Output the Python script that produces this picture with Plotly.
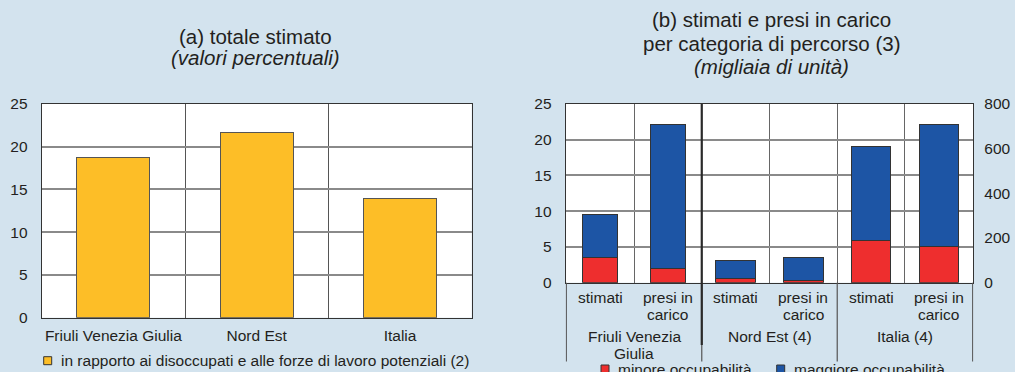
import plotly.graph_objects as go

W, H = 1015, 372

# Panel (a): estimated total, percentage values
regions_a = ["Friuli Venezia Giulia", "Nord Est", "Italia"]
share_a = [18.8, 21.7, 13.9]
legend_a = "in rapporto ai disoccupati e alle forze di lavoro potenziali (2)"
ticks_a = [0, 5, 10, 15, 20, 25]

# Panel (b): estimated and taken-in-charge by path category (thousands)
# Friuli Venezia Giulia is read on the left scale, Nord Est and Italia on the right one
groups_b = [["Friuli Venezia", "Giulia"], ["Nord Est (4)"], ["Italia (4)"]]
kinds_b = [["stimati"], ["presi in", "carico"]]
minore_b = [3.5, 2.0, 18, 9, 187, 160]
maggiore_b = [6.0, 20.1, 82, 105, 422, 550]
series_b = ["minore occupabilità", "maggiore occupabilità"]
ticks_b_left = [0, 5, 10, 15, 20, 25]
ticks_b_right = [0, 200, 400, 600, 800]

BG = "#d3e3ee"
YELLOW = "#fdbe27"
RED = "#ee2e2e"
BLUE = "#1d55a5"
FRAME = "#333333"
GRID = "#8a8a8a"
TXT = "#231f20"
FONT = "Liberation Sans"


def px_x(x):
    return x / W


def px_y(y):
    return 1 - y / H


# plot-area geometry (pixels)
a_left, a_right, a_top, a_bottom = 41.7, 471.7, 104, 317.7
b_left, b_right, b_top, b_bottom = 565.7, 973.3, 104, 282.7
LINE_GAP = 16.8

n_k = len(kinds_b)
cats_b = [f"{g}|{k}" for g in range(len(groups_b)) for k in range(n_k)]

fig = go.Figure()

fig.add_trace(go.Bar(
    x=regions_a, y=share_a, xaxis="x", yaxis="y", width=0.51,
    marker=dict(color=YELLOW, line=dict(color="#555555", width=1)),
    showlegend=False, hoverinfo="x+y",
))

# Friuli Venezia Giulia bars (left scale)
fvg = slice(0, n_k)
oth = slice(n_k, len(cats_b))
for vals, col, name in ((minore_b, RED, series_b[0]), (maggiore_b, BLUE, series_b[1])):
    fig.add_trace(go.Bar(
        x=cats_b[fvg], y=vals[fvg], xaxis="x2", yaxis="y3", width=0.52,
        marker=dict(color=col, line=dict(color=FRAME, width=1)),
        name=name, showlegend=False,
    ))
# Nord Est and Italia bars (right scale)
for vals, col, name in ((minore_b, RED, series_b[0]), (maggiore_b, BLUE, series_b[1])):
    fig.add_trace(go.Bar(
        x=cats_b[oth], y=vals[oth], xaxis="x2", yaxis="y4", width=0.58,
        marker=dict(color=col, line=dict(color=FRAME, width=1)),
        name=name, showlegend=False,
    ))

tickfont = dict(family=FONT, size=15.5, color=TXT)

fig.update_layout(
    width=W, height=H, margin=dict(l=0, r=0, t=0, b=0, autoexpand=False),
    paper_bgcolor=BG, plot_bgcolor="white", barmode="stack",
    font=dict(family=FONT, size=15.5, color=TXT),
    xaxis=dict(
        domain=[px_x(a_left), px_x(a_right)], anchor="y", type="category",
        tickson="boundaries", showgrid=True, gridcolor="#555555", gridwidth=1,
        showline=True, mirror=True, linecolor=FRAME, linewidth=1,
        ticks="", tickangle=0, tickfont=tickfont, ticklabelstandoff=4,
        fixedrange=True,
    ),
    yaxis=dict(
        domain=[px_y(a_bottom), px_y(a_top)], anchor="x", range=[0, 25],
        tickvals=ticks_a, showgrid=True, gridcolor=GRID, gridwidth=1.5,
        showline=True, mirror=True, linecolor=FRAME, linewidth=1,
        zeroline=False, ticks="", ticklabelstandoff=10, tickfont=tickfont,
    ),
    yaxis2=dict(
        overlaying="y", anchor="x", side="right", range=[0, 25],
        tickvals=ticks_a, showgrid=False, zeroline=False, ticks="",
        ticklabelstandoff=10, tickfont=tickfont,
    ),
    xaxis2=dict(
        domain=[px_x(b_left), px_x(b_right)], anchor="y3", type="category",
        categoryorder="array", categoryarray=cats_b,
        tickson="boundaries", showgrid=True, gridcolor="#666666", gridwidth=1.3,
        showline=True, mirror=True, linecolor=FRAME, linewidth=1,
        ticks="", showticklabels=False, fixedrange=True,
    ),
    yaxis3=dict(
        domain=[px_y(b_bottom), px_y(b_top)], anchor="x2", range=[0, 25],
        tickvals=ticks_b_left, showgrid=True, gridcolor=GRID, gridwidth=1.5,
        showline=True, mirror=True, linecolor=FRAME, linewidth=1,
        zeroline=False, ticks="", ticklabelstandoff=10, tickfont=tickfont,
    ),
    yaxis4=dict(
        overlaying="y3", anchor="x2", side="right", range=[0, 800],
        tickvals=ticks_b_right, showgrid=False, zeroline=False, ticks="",
        ticklabelstandoff=10, tickfont=tickfont,
    ),
)

# titles
title_font = dict(family=FONT, size=20.5, color=TXT)
titles = [
    (256, 36, "(a) totale stimato"),
    (256, 58, "<i>(valori percentuali)</i>"),
    (771.5, 20, "(b) stimati e presi in carico"),
    (771.5, 43, "per categoria di percorso (3)"),
    (771.5, 66, "<i>(migliaia di unità)</i>"),
]
for x, y, t in titles:
    fig.add_annotation(x=px_x(x), y=px_y(y), xref="paper", yref="paper",
                       text=t, showarrow=False, font=title_font,
                       xanchor="center", yanchor="middle")


def label_lines(x, y_first, lines):
    for li, line in enumerate(lines):
        fig.add_annotation(x=x, y=px_y(y_first + li * LINE_GAP), xref="x2", yref="paper",
                           text=line, showarrow=False, font=tickfont,
                           xanchor="center", yanchor="middle")


# category and group labels under panel (b)
for ci, cat in enumerate(cats_b):
    label_lines(ci, 297.3, kinds_b[ci % n_k])
for gi, g in enumerate(groups_b):
    label_lines(gi * n_k + (n_k - 1) / 2, 336.7, g)

# group separators under panel (b)
bounds = [i * n_k - 0.5 for i in range(len(groups_b) + 1)]
for b in bounds:
    fig.add_shape(type="line", xref="x2", yref="paper", x0=b, x1=b,
                  y0=px_y(b_bottom), y1=px_y(361.5),
                  line=dict(color="#555555", width=1.2))
# heavier divider between the regional and the area/national blocks
fig.add_shape(type="line", xref="x2", yref="paper", x0=bounds[1], x1=bounds[1],
              y0=px_y(b_top), y1=px_y(345),
              line=dict(color="#2a2a2a", width=2.2))


def legend_item(x_sq, y_mid, colour, text):
    fig.add_shape(type="rect", xref="paper", yref="paper",
                  x0=px_x(x_sq), x1=px_x(x_sq + 8),
                  y0=px_y(y_mid + 4), y1=px_y(y_mid - 4),
                  fillcolor=colour, line=dict(color=FRAME, width=1))
    fig.add_annotation(x=px_x(x_sq + 15), y=px_y(y_mid), xref="paper", yref="paper",
                       text=text, showarrow=False, font=tickfont,
                       xanchor="left", yanchor="middle")


legend_item(43.7, 360.7, YELLOW, legend_a)
legend_item(601, 369, RED, series_b[0])
legend_item(776.7, 369, BLUE, series_b[1])

fig.write_html("out.html")
